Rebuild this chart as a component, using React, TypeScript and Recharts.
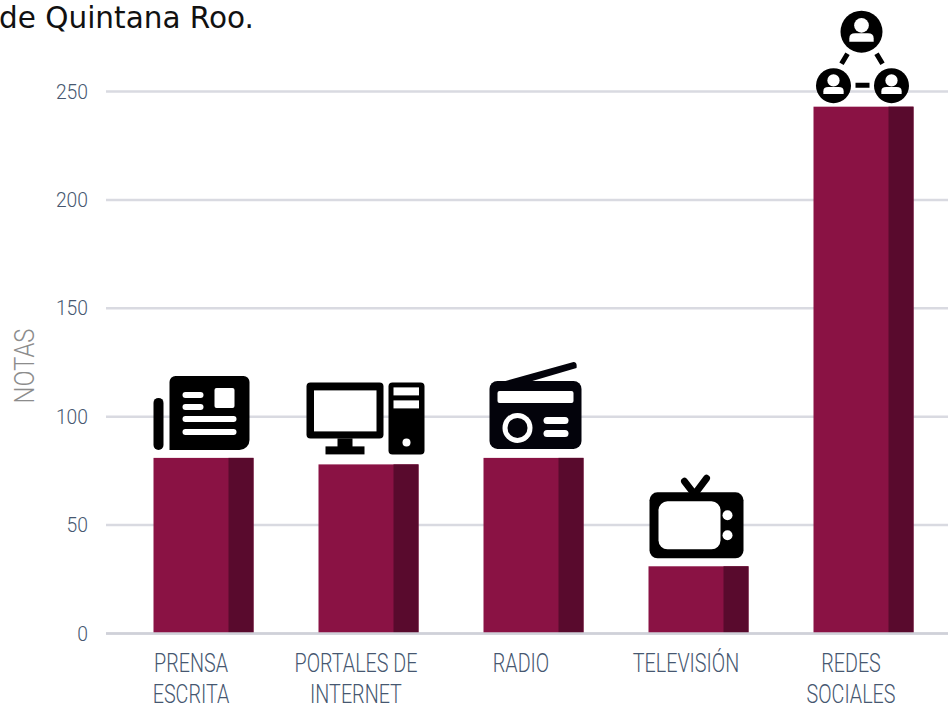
import React from "react";
import { ComposedChart, Bar, XAxis, YAxis, CartesianGrid, Label } from "recharts";

const categories = ["PRENSA ESCRITA", "PORTALES DE INTERNET", "RADIO", "TELEVISIÓN", "REDES SOCIALES"];
const categoryLines = [["PRENSA", "ESCRITA"], ["PORTALES DE", "INTERNET"], ["RADIO"], ["TELEVISIÓN"], ["REDES", "SOCIALES"]];
const notas = [81, 78, 81, 31, 243];
const yTicks = [0, 50, 100, 150, 200, 250];
const rows = categories.map((c, i) => ({ c, notas: notas[i], i }));

const W = "#fff";
const Newspaper = () => (
  <g>
    <rect x={153} y={398} width={10} height={52} rx={5} fill="#000" />
    <path d="M175 376H243a6 6 0 0 1 6 6V440a10 10 0 0 1-10 10H169V382a6 6 0 0 1 6-6Z" fill="#000" />
    <rect x={182} y={392} width={21} height={6} rx={3} fill={W} />
    <rect x={182} y={404} width={21} height={6} rx={3} fill={W} />
    <rect x={182} y={416} width={54} height={6} rx={3} fill={W} />
    <rect x={182} y={429} width={54} height={6} rx={3} fill={W} />
    <rect x={214} y={388} width={20} height={20} rx={2} fill={W} />
  </g>
);
const Computer = () => (
  <g>
    <rect x={306} y={383} width={77} height={56} rx={4} fill="#000" />
    <rect x={313.500} y={391} width={62.500} height={41} fill={W} />
    <rect x={337} y={439} width={15} height={9} fill="#000" />
    <rect x={325} y={447} width={39} height={8} fill="#000" />
    <rect x={388} y={383} width={36} height={72} rx={4} fill="#000" />
    <rect x={393} y={388} width={25.500} height={8} fill={W} />
    <rect x={393} y={401} width={25.500} height={8} fill={W} />
    <circle cx={406} cy={443} r={4} fill={W} />
  </g>
);
const Radio = () => (
  <g>
    <path d="M505 381L573 362Q577 362 576 368L525 383Z" fill="#03030b" />
    <rect x={489} y={381} width={92} height={68} rx={8} fill="#03030b" />
    <rect x={497} y={391} width={76} height={12} rx={2} fill={W} />
    <circle cx={517} cy={428} r={15} fill={W} />
    <circle cx={517} cy={428} r={10} fill="#03030b" />
    <rect x={543} y={417} width={25} height={7} rx={3.500} fill={W} />
    <rect x={543} y={430} width={25} height={7} rx={3.500} fill={W} />
  </g>
);
const Television = () => (
  <g>
    <path d="M684 481L694 494L706 478" fill="none" stroke="#000" strokeWidth={7} strokeLinecap="round" />
    <rect x={649} y={492} width={94} height={66} rx={8} fill="#000" />
    <rect x={658} y={501} width={62} height={48} rx={9} fill={W} />
    <circle cx={727} cy={515} r={5} fill={W} />
    <circle cx={727} cy={535} r={5} fill={W} />
  </g>
);
const Person = ({ cx, cy, r }: { cx: number; cy: number; r: number }) => (
  <g>
    <circle cx={cx} cy={cy} r={r} fill="#000" />
    <circle cx={cx} cy={cy - r * 0.3} r={r * 0.35} fill={W} />
    <path
      d={`M${cx - r * 0.58} ${cy + r * 0.48}V${cy + r * 0.32}Q${cx - r * 0.58} ${cy + r * 0.08} ${cx - r * 0.3} ${cy + r * 0.08}H${cx + r * 0.3}Q${cx + r * 0.58} ${cy + r * 0.08} ${cx + r * 0.58} ${cy + r * 0.32}V${cy + r * 0.48}Z`}
      fill={W}
    />
  </g>
);
const Network = () => (
  <g>
    <Person cx={861} cy={31} r={21} />
    <Person cx={833} cy={85} r={17.500} />
    <Person cx={891} cy={85} r={17.500} />
    <path d="M847 53L841 63M876 53L882 63M855 84.500H869" stroke="#000" strokeWidth={5} fill="none" />
  </g>
);
const icons = [
  { C: Newspaper, cx: 203, top: 458 },
  { C: Computer, cx: 368, top: 465 },
  { C: Radio, cx: 533, top: 458 },
  { C: Television, cx: 698, top: 566 },
  { C: Network, cx: 863, top: 106 },
];

const TwoToneBar = (p: any) => {
  const { x, y, width, height, index } = p;
  const ic = icons[index];
  const front = width * 0.75;
  return (
    <g>
      <rect x={x} y={y} width={width} height={height} fill="#8a1244" />
      <rect x={x + front} y={y} width={width - front} height={height} fill="#590a2d" />
      <g transform={`translate(${x + width / 2 - ic.cx} ${y - ic.top})`}>
        <ic.C />
      </g>
    </g>
  );
};

const FONT = "Roboto";
const INK = "#465770";
const CatTick = (p: any) => {
  const lines = categoryLines[p.index] || [];
  return (
    <g>
      {lines.map((l: string, i: number) => (
        <text
          key={l}
          transform={`translate(${p.x - 12} ${672 + i * 31}) scale(0.79 1)`}
          textAnchor="middle"
          fill={INK}
          fontFamily={FONT}
          fontWeight={300}
          fontSize={25}
        >
          {l}
        </text>
      ))}
    </g>
  );
};
const ValTick = (p: any) => (
  <text
    transform={`translate(88 ${p.y + 7}) scale(0.92 1)`}
    textAnchor="end"
    fill={INK}
    fontFamily={FONT}
    fontWeight={300}
    fontSize={21}
  >
    {p.payload.value}
  </text>
);

export default function App() {
  return (
    <div style={{ position: "absolute", left: 0, top: 0, width: 948, height: 704, overflow: "hidden", background: "#fff" }}>
      <div style={{ position: "absolute", left: -1, top: 1, fontFamily: "'DejaVu Sans'", fontSize: 29.500, color: "#111", whiteSpace: "nowrap" }}>
        de Quintana Roo.
      </div>
      <ComposedChart
        width={948}
        height={704}
        data={rows}
        margin={{ top: 91.500, right: 0, bottom: 0, left: 0 }}
        style={{ position: "absolute", left: 0, top: 0 }}
      >
        <CartesianGrid vertical={false} stroke="#d9dae1" strokeWidth={2.500} />
        <XAxis
          dataKey="c"
          height={70.500}
          interval={0}
          axisLine={{ stroke: "#cfd1d9", strokeWidth: 2.500 }}
          tickLine={false}
          padding={{ left: 14.500, right: 2.500 }}
          tick={<CatTick />}
        />
        <YAxis
          width={106}
          domain={[0, 250]}
          ticks={yTicks}
          axisLine={false}
          tickLine={false}
          tick={<ValTick />}
        >
          <Label
            content={() => (
              <text
                transform="translate(34 366) rotate(-90) scale(0.88 1)"
                textAnchor="middle"
                fill="#8c8c8c"
                fontFamily={FONT}
                fontWeight={300}
                fontSize={27}
              >
                NOTAS
              </text>
            )}
          />
        </YAxis>
        <Bar dataKey="notas" barSize={100} shape={<TwoToneBar />} isAnimationActive={false} />
      </ComposedChart>
    </div>
  );
}
